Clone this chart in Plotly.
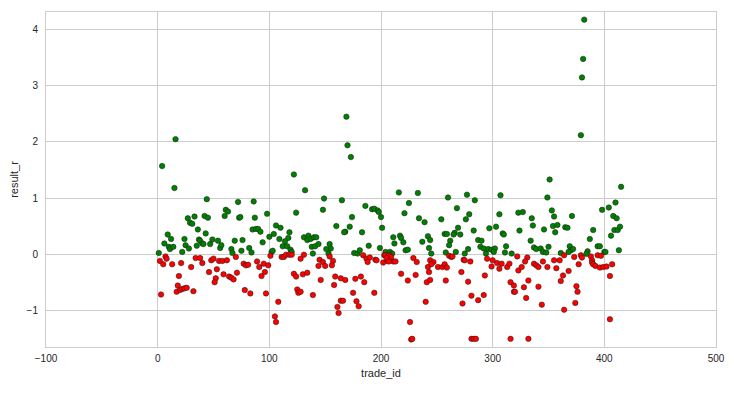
import plotly.graph_objects as go

# Winning trades (result_r > 0)
win_ids = [16, 4, 15, 44, 72, 86, 61, 63, 98, 27, 33, 29, 31, 42, 45, 60, 73, 74, 87, 36,
           43, 9, 12, 6, 10, 11, 14, 1, 22, 24, 25, 28, 35, 37, 38, 40, 41, 47, 49, 54,
           56, 57, 66, 67, 69, 76, 75, 82, 84, 85, 88, 90, 92, 94, 100, 104, 102, 103,
           170, 173, 169, 122, 124, 132, 149, 165, 148, 186, 192, 194, 197, 198, 200, 201,
           174, 160, 172, 168, 167, 183, 106, 110, 109, 118, 117, 114, 112, 116, 119, 120,
           131, 135, 134, 137, 140, 142, 138, 141, 144, 139, 154, 155, 151, 153, 176, 179,
           181, 189, 199, 204, 208, 211, 212,
           216, 233, 225, 221, 234, 239, 254, 260, 277, 284, 268, 279, 276, 269, 266, 265,
           271, 283, 297, 303, 307, 306, 309, 310, 312, 311, 317, 217, 218, 220, 222, 224,
           210, 237, 242, 244, 243, 245, 257, 259, 262, 261, 258, 267, 278, 275, 287, 290,
           289, 292, 294, 296, 299, 302, 301,
           379, 380, 381, 382, 351, 349, 353, 355, 323, 327, 335, 336, 324, 334, 346, 354,
           358, 356, 365, 367, 371, 390, 387, 398, 404, 410, 415, 408, 411, 409, 412, 414,
           406, 413, 337, 339, 343, 345, 348, 350, 361, 369, 370, 372, 368, 385, 384, 394,
           396, 400, 401]
win_r = [2.05, 1.57, 1.18, 0.98, 0.93, 0.94, 0.79, 0.76, 0.72, 0.64, 0.67, 0.56, 0.54, 0.68, 0.65, 0.68, 0.65, 0.66, 0.65, 0.44,
         0.37, 0.35, 0.27, 0.19, 0.13, 0.09, 0.13, 0.02, 0.04, 0.27, 0.16, 0.10, 0.15, 0.26, 0.24, 0.19, 0.18, 0.18, 0.26, 0.24,
         0.11, 0.16, 0.09, 0.02, 0.24, 0.25, 0.06, 0.11, 0.03, 0.44, 0.45, 0.45, 0.40, 0.21, 0.31, 0.36, 0.04, 0.06,
         1.94, 1.73, 2.45, 1.42, 0.74, 1.14, 0.99, 0.96, 0.79, 0.86, 0.80, 0.81, 0.78, 0.75, 0.66, 0.47,
         0.66, 0.50, 0.49, 0.40, 0.39, 0.39, 0.51, 0.47, 0.27, 0.39, 0.29, 0.23, 0.14, 0.14, 0.08, 0.04,
         0.30, 0.33, 0.25, 0.27, 0.30, 0.30, 0.13, 0.14, 0.18, 0.01, 0.18, 0.10, 0.09, 0.01, 0.02, 0.01,
         0.07, 0.15, 0.11, 0.04, 0.04, 0.30, 0.19,
         1.10, 1.09, 0.91, 0.73, 0.64, 0.57, 0.62, 1.01, 1.06, 0.96, 0.82, 0.71, 0.62, 0.47, 0.38, 0.35,
         0.35, 0.42, 0.46, 0.49, 1.05, 0.71, 0.37, 0.35, 0.14, 0.03, 0.01, 0.33, 0.29, 0.21, 0.07, 0.08,
         0.01, 0.22, 0.32, 0.25, 0.11, 0.01, 0.36, 0.36, 0.24, 0.16, 0.03, 0.04, 0.09, 0.01, 0.25, 0.24,
         0.13, 0.10, 0.01, 0.09, 0.08, 0.10, 0.04,
         2.12, 3.15, 3.48, 4.18, 1.33, 1.01, 0.78, 0.67, 0.74, 0.75, 0.64, 0.51, 0.42, 0.24, 0.44, 0.50,
         0.52, 0.39, 0.48, 0.47, 0.68, 0.43, 0.27, 0.79, 0.83, 0.92, 1.20, 0.68, 0.64, 0.43, 0.43, 0.49,
         0.33, 0.07, 0.12, 0.09, 0.10, 0.04, 0.03, 0.13, 0.02, 0.14, 0.07, 0.09, 0.04, 0.05, 0.005, 0.14,
         0.14, 0.04, 0.04]

# Losing trades (result_r <= 0)
loss_ids = [3, 2, 5, 7, 8, 13, 19, 18, 17, 20, 21, 22, 24, 26, 32, 30, 34, 38, 40, 46,
            48, 50, 52, 51, 53, 55, 58, 62, 59, 64, 66, 68, 70, 71, 77, 79, 81, 78, 83, 89,
            91, 95, 99, 96, 93, 97, 101, 105, 106,
            108, 111, 113, 115, 118, 120, 122, 124, 128, 130, 134, 131, 125, 126, 128, 139, 144,
            145, 148, 150, 146, 154, 157, 156, 159, 158, 164, 168, 161, 162, 164, 166, 175,
            178, 180, 177, 182, 185, 184, 187, 190, 188, 195, 196, 194, 202, 203, 204, 206,
            208, 211,
            226, 227, 228, 281, 283, 285, 316, 207, 209, 205, 207, 213, 218, 224, 229, 232,
            231, 240, 242, 243, 244, 247, 245, 241, 244, 251, 255, 257, 259, 258, 261, 263,
            264, 272, 278, 274, 275, 273, 280, 281, 287, 292, 293, 295, 299, 300, 304, 306,
            308, 313, 315, 316, 319, 319, 320,
            332, 405, 322, 323, 326, 331, 329, 328, 332, 330, 337, 339, 341, 345, 349, 341,
            344, 355, 360, 357, 364, 363, 368, 361, 364, 373, 377, 379, 380, 375, 376, 374,
            388, 389, 389, 390, 392, 394, 397, 396, 399, 402, 405, 407]
loss_r = [-0.72, -0.12, -0.18, -0.04, -0.08, -0.18, -0.39, -0.56, -0.67, -0.64, -0.16, -0.62, -0.61, -0.60, -0.66, -0.23, -0.07, -0.07, -0.16, -0.32,
          -0.11, -0.08, -0.43, -0.50, -0.27, -0.12, -0.12, -0.11, -0.36, -0.40, -0.42, -0.45, -0.05, -0.33, -0.17, -0.20, -0.19, -0.64, -0.70, -0.13,
          -0.23, -0.17, -0.20, -0.32, -0.39, -0.70, -0.03, -1.11, -1.21,
          -0.85, -0.05, -0.05, -0.01, -0.01, -0.01, -0.35, -0.40, -0.08, -0.36, -0.33, -0.01, -0.63, -0.69, -0.67, -0.73, -0.21,
          -0.10, -0.14, -0.21, -0.46, -0.04, -0.12, -0.20, -0.40, -0.55, -0.43, -0.46, -0.94, -1.05, -0.83, -0.83, -0.69,
          -0.84, -0.93, -0.44, -0.40, -0.50, -0.02, -0.08, -0.06, -0.14, -0.10, -0.11, -0.69, -0.15, -0.02, -0.02, -0.12,
          -0.02, -0.13,
          -1.21, -1.52, -1.51, -1.51, -1.51, -1.51, -1.51, -0.03, -0.05, -0.07, -0.13, -0.13, -0.35, -0.47, -0.07, -0.14,
          -0.37, -0.85, -0.23, -0.32, -0.11, -0.14, -0.18, -0.50, -0.46, -0.23, -0.23, -0.18, -0.24, -0.47, -0.03, -0.05,
          -0.04, -0.32, -0.49, -0.10, -0.11, -0.88, -0.13, -0.74, -0.82, -0.73, -0.38, -0.08, -0.22, -0.11, -0.16, -0.26,
          -0.17, -0.23, -0.17, -0.50, -0.56, -0.67, -0.67,
          -1.51, -1.16, -0.04, -0.29, -0.23, -0.06, -0.13, -0.59, -0.47, -0.78, -0.17, -0.20, -0.23, -0.13, -0.23, -0.58,
          -0.90, -0.11, -0.11, -0.25, -0.02, -0.38, -0.30, -0.48, -0.99, -0.05, -0.18, -0.02, -0.06, -0.57, -0.67, -0.87,
          -0.04, -0.11, -0.15, -0.18, -0.21, -0.02, -0.03, -0.24, -0.23, -0.22, -0.39, -0.18]

x_ticks = [-100, 0, 100, 200, 300, 400, 500]
y_ticks = [-1, 0, 1, 2, 3, 4]

fig = go.Figure()
fig.add_trace(go.Scatter(x=win_ids, y=win_r, mode="markers",
                         marker=dict(color="#008000", size=5.5, line=dict(color="#1a1a1a", width=0.5)),
                         showlegend=False))
fig.add_trace(go.Scatter(x=loss_ids, y=loss_r, mode="markers",
                         marker=dict(color="#ff0000", size=5.5, line=dict(color="#1a1a1a", width=0.5)),
                         showlegend=False))

axis_common = dict(showgrid=True, gridcolor="#cccccc", gridwidth=1, zeroline=False,
                   showline=True, linecolor="#cccccc", linewidth=1, mirror=True,
                   automargin=False, ticks="",
                   tickfont=dict(family="Liberation Sans", size=10, color="#262626"))

# the page body has an 8px default margin, so the figure is sized to fit beside it
fig.update_layout(
    width=726, height=386,
    margin=dict(l=38, r=18, t=4, b=47),
    paper_bgcolor="white", plot_bgcolor="white",
    font=dict(family="Liberation Sans", size=11, color="#262626"),
    xaxis=dict(range=[-100, 500], tickvals=x_ticks, ticklabelstandoff=2,
               title=dict(text="trade_id", font=dict(size=11), standoff=6), **axis_common),
    yaxis=dict(range=[-1.655, 4.316], tickvals=y_ticks, ticklabelstandoff=5,
               title=dict(text="result_r", font=dict(size=11), standoff=6), **axis_common),
)

fig.write_html("out.html")
